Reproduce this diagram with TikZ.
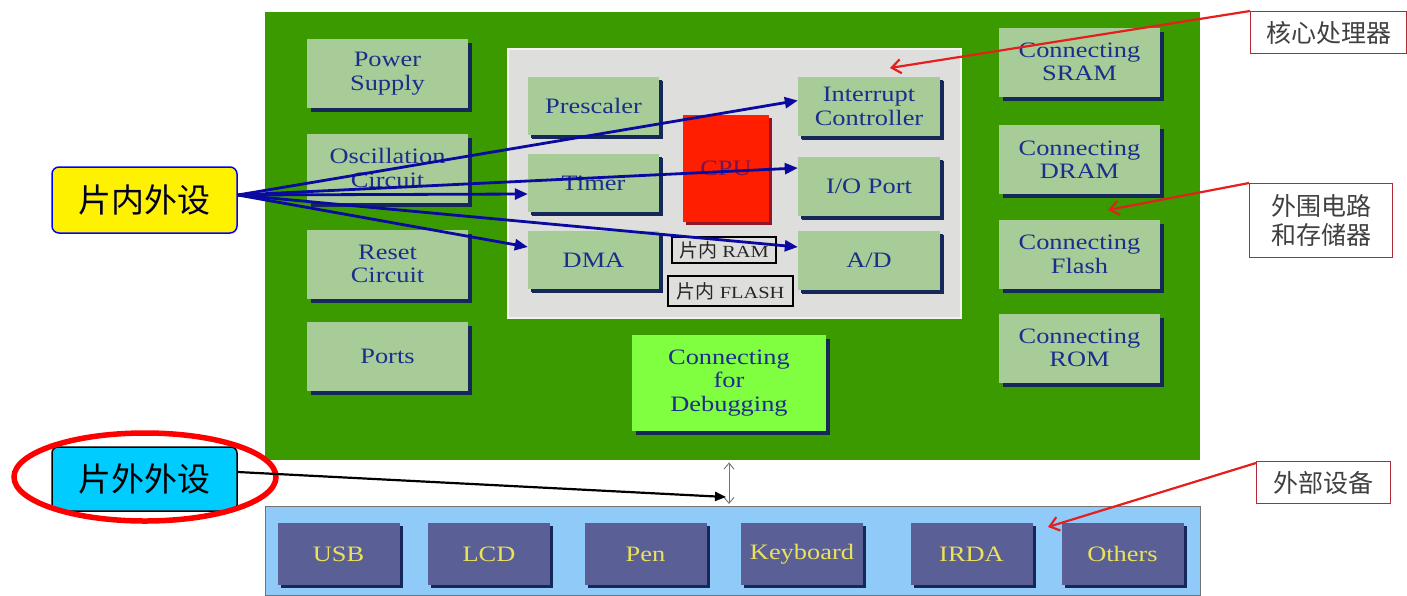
\documentclass[tikz,border=0pt]{standalone}
\usepackage{fontspec}
\setmainfont{Liberation Serif}[FakeStretch=1.2]
\newfontfamily\cjk{Noto Sans CJK SC}
\usetikzlibrary{shadows,arrows.meta,calc}
\definecolor{maing}{RGB}{58,154,0}
\definecolor{boxg}{RGB}{168,204,152}
\definecolor{shad}{RGB}{22,40,90}
\definecolor{txtb}{RGB}{28,45,140}
\definecolor{grayin}{RGB}{222,222,220}
\definecolor{dbgg}{RGB}{128,255,64}
\definecolor{barb}{RGB}{144,202,248}
\definecolor{devb}{RGB}{90,96,150}
\definecolor{devt}{RGB}{236,226,90}
\definecolor{arrb}{RGB}{10,10,160}
\definecolor{annr}{RGB}{180,40,60}
\definecolor{redl}{RGB}{230,30,30}
\definecolor{cpur}{RGB}{255,30,0}
\definecolor{cput}{RGB}{120,20,80}
\definecolor{cpus}{RGB}{150,20,40}
\definecolor{cyanb}{RGB}{0,204,255}
\begin{document}
\begin{tikzpicture}[x=1pt,y=-1pt,
  lbox/.style={fill=boxg, text=txtb, align=center, font=\fontsize{22}{23.5}\selectfont,
    inner sep=0pt, minimum width=161pt, minimum height=69pt,
    drop shadow={shadow xshift=4pt,shadow yshift=-4pt,fill=shad,opacity=1}},
  ibox/.style={lbox, drop shadow={shadow xshift=3pt,shadow yshift=-3pt,fill=shad,opacity=1}},
  dev/.style={fill=devb, text=devt, font=\fontsize{22}{24}\selectfont, inner sep=0pt,
    minimum width=122pt, minimum height=62pt,
    drop shadow={shadow xshift=3pt,shadow yshift=-3pt,fill=shad,opacity=1}},
  memb/.style={draw=black, line width=1.3pt, text=black!85, inner sep=0pt,
    font=\fontsize{17}{18}\selectfont},
  ann/.style={draw=annr, line width=1.2pt, fill=white, text=black!75, align=center,
    inner sep=0pt, font=\cjk\fontsize{25}{29}\selectfont},
  barr/.style={draw=arrb, line width=2.8pt, -{Triangle[length=13pt,width=11pt]}},
  redarr/.style={draw=redl, line width=2.2pt, -{Straight Barb[length=9pt,width=14pt]}}]
\useasboundingbox (0,0) rectangle (1407,595);
% main blocks
\node[fill=maing, inner sep=0pt, minimum width=935pt, minimum height=448pt, anchor=north west] (main) at (265,12) {};
\node[fill=barb, draw=black!55, line width=0.8pt, inner sep=0pt, minimum width=935pt, minimum height=89pt, anchor=north west] (bar) at (265,506) {};
\node[fill=grayin, draw=white!90!gray, line width=2pt, inner sep=0pt, minimum width=453pt, minimum height=269pt, anchor=north west] (core) at (507,48) {};
% left column
\node[lbox] (ps) at (387.5,73.5) {Power\\Supply};
\node[lbox] (osc) at (387.5,168) {Oscillation\\Circuit};
\node[lbox] (rst) at (387.5,264) {Reset\\Circuit};
\node[lbox] (prt) at (387.5,356) {Ports};
% inner
\node[ibox, minimum width=131pt, minimum height=58pt] (pre) at (593.5,106) {Prescaler};
\node[ibox, minimum width=131pt, minimum height=58pt] (tm) at (593.5,183) {Timer};
\node[ibox, minimum width=131pt, minimum height=58pt] (dma) at (593.5,260) {DMA};
\node[ibox, minimum width=142pt, minimum height=59pt] (ic) at (869,106.5) {Interrupt\\Controller};
\node[ibox, minimum width=142pt, minimum height=59pt] (io) at (869,186) {I/O Port};
\node[ibox, minimum width=142pt, minimum height=59pt] (ad) at (869,260) {A/D};
\node[fill=cpur, text=cput, inner sep=0pt, minimum width=86pt, minimum height=107pt,
  font=\fontsize{22}{24}\selectfont,
  drop shadow={shadow xshift=3pt,shadow yshift=-3pt,fill=cpus,opacity=1}] (cpu) at (726,168) {CPU};
\node[memb, minimum width=104pt, minimum height=26pt] (ram) at (724,250) {{\cjk\fontsize{19}{20}\selectfont 片内} RAM};
\node[memb, minimum width=125pt, minimum height=30pt] (fl) at (730.5,291) {{\cjk\fontsize{19}{20}\selectfont 片内} FLASH};
% right column
\node[lbox] (sram) at (1079.5,62) {Connecting\\SRAM};
\node[lbox] (dram) at (1079.5,159.5) {Connecting\\DRAM};
\node[lbox] (flash) at (1079.5,254.5) {Connecting\\Flash};
\node[lbox] (rom) at (1079.5,348) {Connecting\\ROM};
% debug
\node[lbox, fill=dbgg, minimum width=194pt, minimum height=96pt] (dbg) at (729,383) {Connecting\\for\\Debugging};
% devices
\node[dev] (usb) at (338.5,554) {USB};
\node[dev] (lcd) at (489,554) {LCD};
\node[dev] (pen) at (645.5,554) {Pen};
\node[dev] (kb) at (802,554) {Keyboard};
\node[dev] (irda) at (971.5,554) {IRDA};
\node[dev] (oth) at (1122.5,554) {Others};
% bus double arrow
\draw[black!55, line width=0.9pt, {Straight Barb[length=6pt,width=10pt]}-{Straight Barb[length=6pt,width=10pt]}, shorten >=2pt, shorten <=2pt]
  (dbg.south |- main.south) -- (dbg.south |- bar.north);
% left labels
\node[draw=blue, line width=1.5pt, fill=yellow, rounded corners=7pt, inner sep=0pt,
  minimum width=185pt, minimum height=66pt, text=black!85!blue,
  font=\cjk\fontsize{33}{35}\selectfont] (in) at (144.5,200) {片内外设};
\node[draw=black, line width=1.5pt, fill=cyanb, rounded corners=6pt, inner sep=0pt,
  minimum width=185pt, minimum height=64pt, text=black,
  font=\cjk\fontsize{33}{35}\selectfont] (out) at (144.5,479) {片外外设};
\draw[red, line width=5.5pt] (145,477) ellipse [x radius=131, y radius=44];
% blue arrows
\draw[barr] ([yshift=5pt]in.east) -- ([yshift=6pt]ic.west);
\draw[barr] ([yshift=5pt]in.east) -- ([yshift=18pt]io.west);
\draw[barr] ([yshift=5pt]in.east) -- ([yshift=-11pt]tm.west);
\draw[barr] ([yshift=5pt]in.east) -- ([yshift=13pt]dma.west);
\draw[barr] ([yshift=5pt]in.east) -- ([yshift=13pt]ad.west);
% black arrow
\coordinate (bt) at (726,497);
\draw[black, line width=2.2pt, -{Triangle[length=11pt,width=9pt]}] ([yshift=7pt]out.east) -- (bt);
% annotations
\node[ann, minimum width=156pt, minimum height=42pt, anchor=north west] (k1) at (1250,11) {核心处理器};
\node[ann, minimum width=143pt, minimum height=74pt, anchor=north west] (k2) at (1249,183) {外围电路\\和存储器};
\node[ann, minimum width=134pt, minimum height=42pt, anchor=north west] (k3) at (1256,461) {外部设备};
\coordinate (t1) at (890,68);
\coordinate (t2) at (1108,210);
\coordinate (t3) at (1048,527);
\draw[redarr] (k1.north west) -- (t1);
\draw[redarr] (k2.north west) -- (t2);
\draw[redarr] ([yshift=-2pt]k3.north west) -- (t3);
\end{tikzpicture}
\end{document}
